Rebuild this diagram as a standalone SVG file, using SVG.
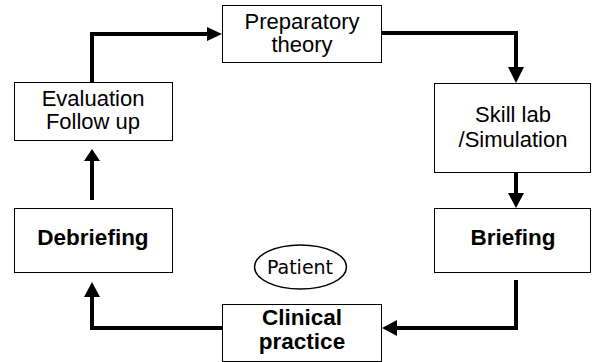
<svg xmlns="http://www.w3.org/2000/svg" width="592" height="362" viewBox="0 0 592 362">
<style>
.box{fill:#fff;stroke:#000;stroke-width:1}
.t{font-family:"Liberation Sans",Arial,sans-serif;font-size:22px;text-anchor:middle;fill:#000}
.b{font-family:"Liberation Sans",Arial,sans-serif;font-size:22.5px;font-weight:bold;text-anchor:middle;fill:#000}
.p{font-family:"Comic Sans MS","DejaVu Sans",sans-serif;font-size:19px;text-anchor:middle;fill:#000}
.ln{fill:none;stroke:#000;stroke-width:4;stroke-linejoin:miter}
.ah{fill:#000}
</style>
<rect width="592" height="362" fill="#fff"/>
<g id="connectors">
<path class="ln" d="M92,82 V34 H208"/>
<polygon class="ah" points="207,27 222,34 207,41"/>
<path class="ln" d="M382,33 H516 V68"/>
<polygon class="ah" points="508,67 516,83 524,67"/>
<path class="ln" d="M516,173 V194"/>
<polygon class="ah" points="508,193 516,208 524,193"/>
<path class="ln" d="M516,280 V328 H396"/>
<polygon class="ah" points="397,320 382,328 397,336"/>
<path class="ln" d="M222,328 H92 V296"/>
<polygon class="ah" points="84,297 92,282 100,297"/>
<path class="ln" d="M92,200 V160"/>
<polygon class="ah" points="84,161 92,149 100,161"/>
</g>
<g id="preparatory">
<rect class="box" x="222.5" y="5.5" width="159" height="57"/>
<text class="t" x="302" y="29">Preparatory</text>
<text class="t" x="302" y="52">theory</text>
</g>
<g id="evaluation">
<rect class="box" x="14.5" y="82.5" width="158" height="58"/>
<text class="t" x="93" y="106">Evaluation</text>
<text class="t" x="93" y="129">Follow up</text>
</g>
<g id="skilllab">
<rect class="box" x="434.5" y="83.5" width="156" height="89"/>
<text class="t" x="513" y="122">Skill lab</text>
<text class="t" x="513" y="147">/Simulation</text>
</g>
<g id="debriefing">
<rect class="box" x="14.5" y="208.5" width="158" height="64"/>
<text class="b" x="93" y="245">Debriefing</text>
</g>
<g id="briefing">
<rect class="box" x="434.5" y="208.5" width="156" height="64"/>
<text class="b" x="513" y="245">Briefing</text>
</g>
<g id="clinical">
<rect class="box" x="222.5" y="304.5" width="159" height="57"/>
<text class="b" x="302" y="325">Clinical</text>
<text class="b" x="302" y="349">practice</text>
</g>
<g id="patient">
<ellipse cx="300.5" cy="267" rx="46" ry="22" fill="#fff" stroke="#000" stroke-width="1.5"/>
<text class="p" x="300" y="274">Patient</text>
</g>
</svg>
